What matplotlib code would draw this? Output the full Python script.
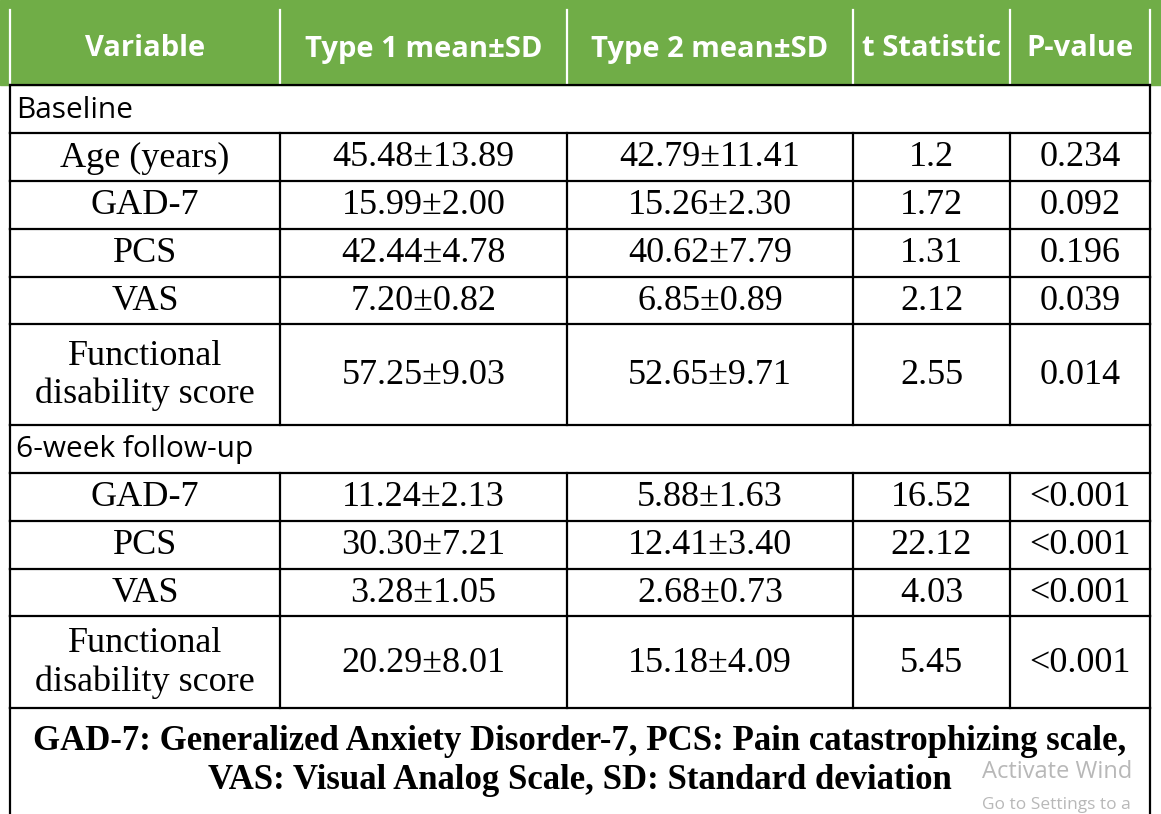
import matplotlib
matplotlib.use("Agg")
import matplotlib.pyplot as plt

headers = ["Variable", "Type 1 mean±SD", "Type 2 mean±SD", "t Statistic", "P-value"]
baseline_vars = ["Age (years)", "GAD-7", "PCS", "VAS", "Functional\ndisability score"]
baseline_t1 = ["45.48±13.89", "15.99±2.00", "42.44±4.78", "7.20±0.82", "57.25±9.03"]
baseline_t2 = ["42.79±11.41", "15.26±2.30", "40.62±7.79", "6.85±0.89", "52.65±9.71"]
baseline_t = ["1.2", "1.72", "1.31", "2.12", "2.55"]
baseline_p = ["0.234", "0.092", "0.196", "0.039", "0.014"]
follow_vars = ["GAD-7", "PCS", "VAS", "Functional\ndisability score"]
follow_t1 = ["11.24±2.13", "30.30±7.21", "3.28±1.05", "20.29±8.01"]
follow_t2 = ["5.88±1.63", "12.41±3.40", "2.68±0.73", "15.18±4.09"]
follow_t = ["16.52", "22.12", "4.03", "5.45"]
follow_p = ["<0.001", "<0.001", "<0.001", "<0.001"]
footnote = ("GAD-7: Generalized Anxiety Disorder-7, PCS: Pain catastrophizing scale,\n"
            "VAS: Visual Analog Scale, SD: Standard deviation")

W, H = 1161, 814
fig = plt.figure(figsize=(W/100, H/100), dpi=100)
ax = fig.add_axes([0, 0, 1, 1])
ax.set_xlim(0, W); ax.set_ylim(H, 0); ax.axis("off")

xs = [10, 280, 567, 853, 1010, 1150]
green = "#70AD47"
serif = "Liberation Serif"
sans = "Open Sans"
lw = 1.6

ax.add_patch(plt.Rectangle((0, 0), W, 85, color=green, zorder=0))
for i, h in enumerate(headers):
    ax.text((xs[i]+xs[i+1])/2, 49, h, ha="center", va="center", color="white",
            fontsize=21, fontweight="bold", family=sans)
for x in xs:
    ax.plot([x, x], [10, 85], color="white", lw=lw)

def section(y0, label, vars_, t1, t2, tt, pp, heights):
    ax.plot([xs[0], xs[-1]], [y0, y0], color="black", lw=lw)
    ax.text(xs[0]+6, y0+25, label, ha="left", va="center", fontsize=21.5, family=sans)
    y = y0 + 48
    ax.plot([xs[0], xs[0]], [y0, y], color="black", lw=lw)
    ax.plot([xs[-1], xs[-1]], [y0, y], color="black", lw=lw)
    for k, v in enumerate(vars_):
        h = heights[k]
        ax.plot([xs[0], xs[-1]], [y, y], color="black", lw=lw)
        for x in xs:
            ax.plot([x, x], [y, y+h], color="black", lw=lw)
        vals = [v, t1[k], t2[k], tt[k], pp[k]]
        for i, s in enumerate(vals):
            ax.text((xs[i]+xs[i+1])/2, y+h/2+1, s, ha="center", va="center",
                    fontsize=26, family=serif, linespacing=1.2)
        y += h
    return y

y = section(85, "Baseline", baseline_vars, baseline_t1, baseline_t2, baseline_t, baseline_p,
            [48, 48, 48, 47, 101])
y = section(y, "6-week follow-up", follow_vars, follow_t1, follow_t2, follow_t, follow_p,
            [48, 48, 47, 92])
ax.plot([xs[0], xs[-1]], [y, y], color="black", lw=lw)
ax.plot([xs[0], xs[0]], [y, H], color="black", lw=lw)
ax.plot([xs[-1], xs[-1]], [y, H], color="black", lw=lw)
ax.text(580, 761, footnote, ha="center", va="center", fontsize=25, fontweight="bold",
        family=serif, linespacing=1.25)
ax.text(982, 772, "Activate Wind", ha="left", va="center", fontsize=17,
        color="#b8b8b8", family=sans)
ax.text(982, 805, "Go to Settings to a", ha="left", va="center", fontsize=12.5,
        color="#b8b8b8", family=sans)
fig.savefig("out.png", dpi=100)
